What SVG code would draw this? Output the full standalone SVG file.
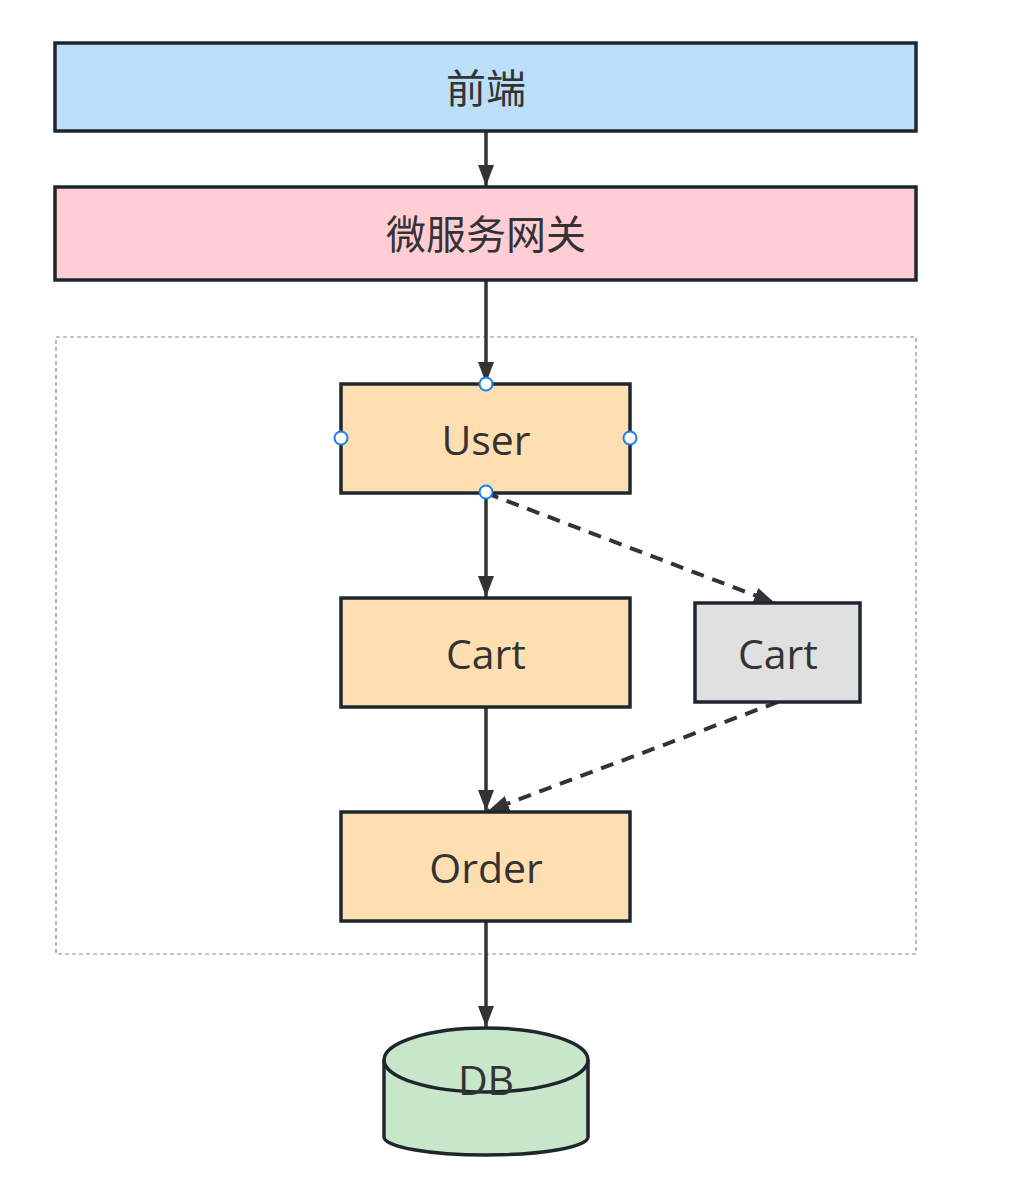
<svg xmlns="http://www.w3.org/2000/svg" width="1025" height="1183" viewBox="0 0 1025 1183">
<style>
.box{stroke:#1f272e;stroke-width:3.5}
.t{font-family:"Open Sans","Noto Sans",sans-serif;font-size:41px;fill:#333;text-anchor:middle}
.cjk{font-family:"Noto Sans CJK SC","Noto Sans",sans-serif;font-size:40px;fill:#333;text-anchor:middle}
.ln{stroke:#333;stroke-width:3.5;fill:none}
.dash{stroke-dasharray:13 9;stroke-width:4}
.pt{fill:#fff;stroke:#1a7fe8;stroke-width:2}
</style>
<defs>
<marker id="arr" markerUnits="userSpaceOnUse" markerWidth="22" markerHeight="18" refX="21" refY="9" orient="auto">
<path d="M0,1 L21,9 L0,17 Z" fill="#333"/>
</marker>
</defs>
<rect width="1025" height="1183" fill="#fff"/>
<rect x="56" y="337" width="860" height="617" fill="none" stroke="#8a8a8a" stroke-width="1.2" stroke-dasharray="4 3"/>
<g id="connectors">
<line class="ln" x1="486" y1="131" x2="486" y2="186" marker-end="url(#arr)"/>
<line class="ln" x1="486" y1="281" x2="486" y2="383" marker-end="url(#arr)"/>
<line class="ln" x1="486" y1="493" x2="486" y2="597" marker-end="url(#arr)"/>
<line class="ln" x1="486" y1="707" x2="486" y2="811" marker-end="url(#arr)"/>
<line class="ln" x1="486" y1="921" x2="486" y2="1027" marker-end="url(#arr)"/>
<line class="ln dash" x1="486" y1="493" x2="775" y2="603" marker-end="url(#arr)"/>
<line class="ln dash" x1="778" y1="702" x2="488" y2="811" marker-end="url(#arr)"/>
</g>
<g id="frontend">
<rect class="box" x="55" y="43" width="861" height="88" fill="#bbdff9"/>
<text class="cjk" x="486" y="103">前端</text>
</g>
<g id="gateway">
<rect class="box" x="55" y="187" width="861" height="93" fill="#ffcdd3"/>
<text class="cjk" x="486" y="249">微服务网关</text>
</g>
<g id="user">
<rect class="box" x="341" y="384" width="289" height="109" fill="#ffdfb1"/>
<text class="t" x="486" y="455">User</text>
<circle class="pt" cx="486" cy="384" r="6.5"/>
<circle class="pt" cx="341" cy="438" r="6.5"/>
<circle class="pt" cx="630" cy="438" r="6.5"/>
<circle class="pt" cx="486" cy="492" r="6.5"/>
</g>
<g id="cart">
<rect class="box" x="341" y="598" width="289" height="109" fill="#ffdfb1"/>
<text class="t" x="486" y="669">Cart</text>
</g>
<g id="cart2">
<rect class="box" x="695" y="603" width="165" height="99" fill="#e0e0e0"/>
<text class="t" x="778" y="669">Cart</text>
</g>
<g id="order">
<rect class="box" x="341" y="812" width="289" height="109" fill="#ffdfb1"/>
<text class="t" x="486" y="883">Order</text>
</g>
<g id="db">
<path class="box" d="M384,1060 A102,32 0 0 1 588,1060 L588,1137 A102,18 0 0 1 384,1137 Z" fill="#c8e6ca"/>
<path class="box" d="M384,1060 A102,32 0 0 0 588,1060" fill="none"/>
<text class="t" x="486" y="1095">DB</text>
</g>
</svg>
